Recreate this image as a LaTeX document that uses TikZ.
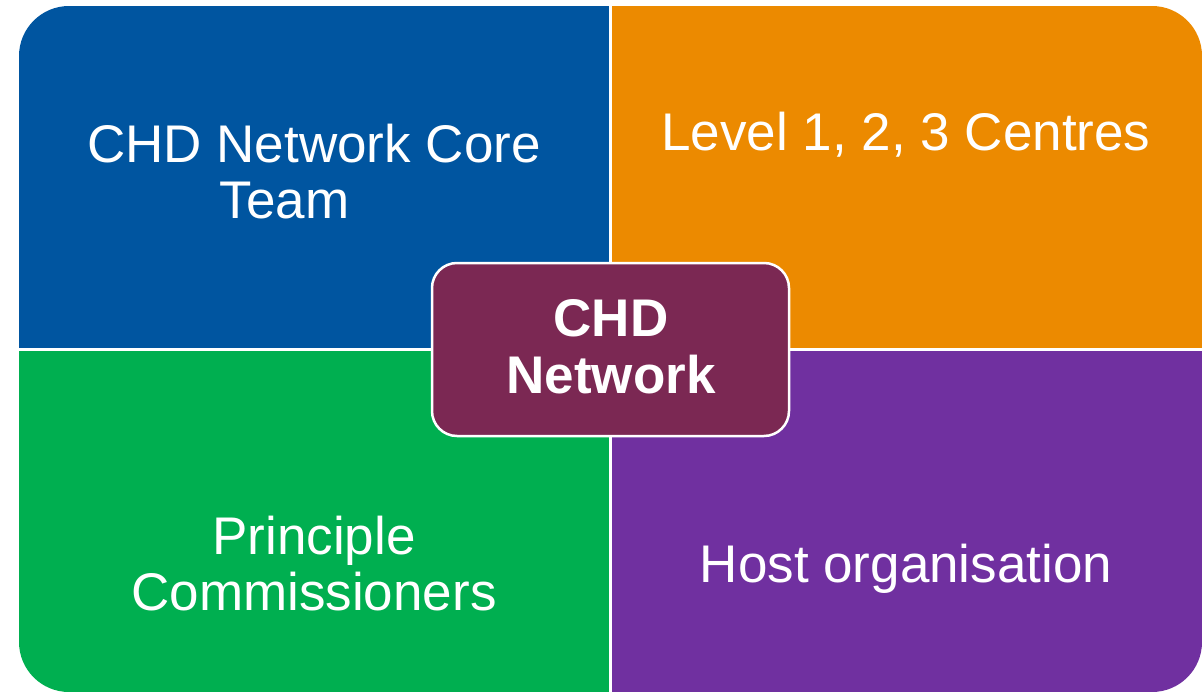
\documentclass[tikz,border=0pt]{standalone}
\usepackage{fontspec}
\setmainfont{Liberation Sans}
\definecolor{qblue}{HTML}{0055A0}
\definecolor{qorange}{HTML}{EC8A00}
\definecolor{qgreen}{HTML}{00AF50}
\definecolor{qpurple}{HTML}{7030A0}
\definecolor{qmaroon}{HTML}{7B2853}
\begin{document}
\begin{tikzpicture}[x=1pt,y=-1pt,
  lbl/.style={text=white,align=center,font=\fontsize{53}{56}\selectfont,inner sep=0pt},
  hub/.style={draw=white,line width=2.5pt,fill=qmaroon,rounded corners=25pt},
  sep/.style={draw=white,line width=3pt}]
\useasboundingbox (0,0) rectangle (1203,693);
\begin{scope}
  \clip[rounded corners=50pt] (19,6) rectangle (1202,692);
  \fill[qblue] (19,6) rectangle (610,349);
  \fill[qorange] (610,6) rectangle (1202,349);
  \fill[qgreen] (19,349) rectangle (610,692);
  \fill[qpurple] (610,349) rectangle (1202,692);
  \draw[sep] (610,0) -- (610,693);
  \draw[sep] (0,349) -- (1203,349);
\end{scope}
\draw[hub] (432,263) rectangle (789,436);
\node[lbl] (core) at (314,172) {CHD Network Core\\Team\hspace*{59pt}};
\node[lbl] (level) at (906,135) {Level 1, 2, 3 Centres};
\node[lbl] (comm) at (314,564) {Principle\\Commissioners};
\node[lbl] (host) at (906,569) {Host organisation};
\node[lbl,font=\bfseries\fontsize{53}{57}\selectfont] (chd) at (611,347) {CHD\\Network};
\end{tikzpicture}
\end{document}
